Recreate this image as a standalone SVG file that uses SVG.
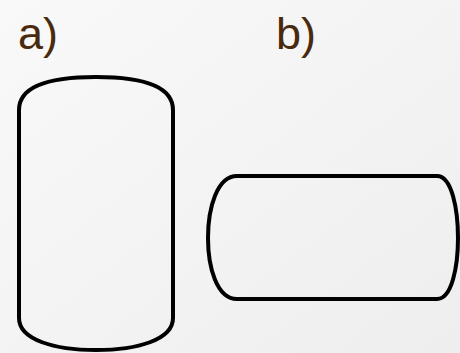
<svg xmlns="http://www.w3.org/2000/svg" width="460" height="353" viewBox="0 0 460 353">
  <defs>
    <linearGradient id="bg" x1="0" y1="0" x2="1" y2="1">
      <stop offset="0" stop-color="#f9f9f9"/>
      <stop offset="1" stop-color="#eeeeee"/>
    </linearGradient>
    <style>
      .label { font-family: "Liberation Sans", Arial, sans-serif; font-size: 45px; fill: #4a2a0c; }
      .shape { fill: none; stroke: #000; stroke-width: 4; stroke-linejoin: round; }
    </style>
  </defs>
  <rect width="460" height="353" fill="url(#bg)"/>

  <g id="label-a"><text class="label" x="18" y="49">a)</text></g>
  <g id="label-b"><text class="label" x="276" y="49">b)</text></g>

  <!-- vertical shape with arched top and bottom -->
  <g id="shape-a">
    <path class="shape" d="M19,110 C19,86 50,77 96,77 C142,77 173,86 173,110 V318 C173,340 137,350 96,350 C55,350 19,340 19,318 Z"/>
  </g>

  <!-- horizontal shape with arched left and right ends -->
  <g id="shape-b">
    <path class="shape" d="M237,176 H437 C452,176 458,210 458,238 C458,266 452,299 437,299 H237 C217,299 208,268 208,238 C208,208 217,176 237,176 Z"/>
  </g>
</svg>
